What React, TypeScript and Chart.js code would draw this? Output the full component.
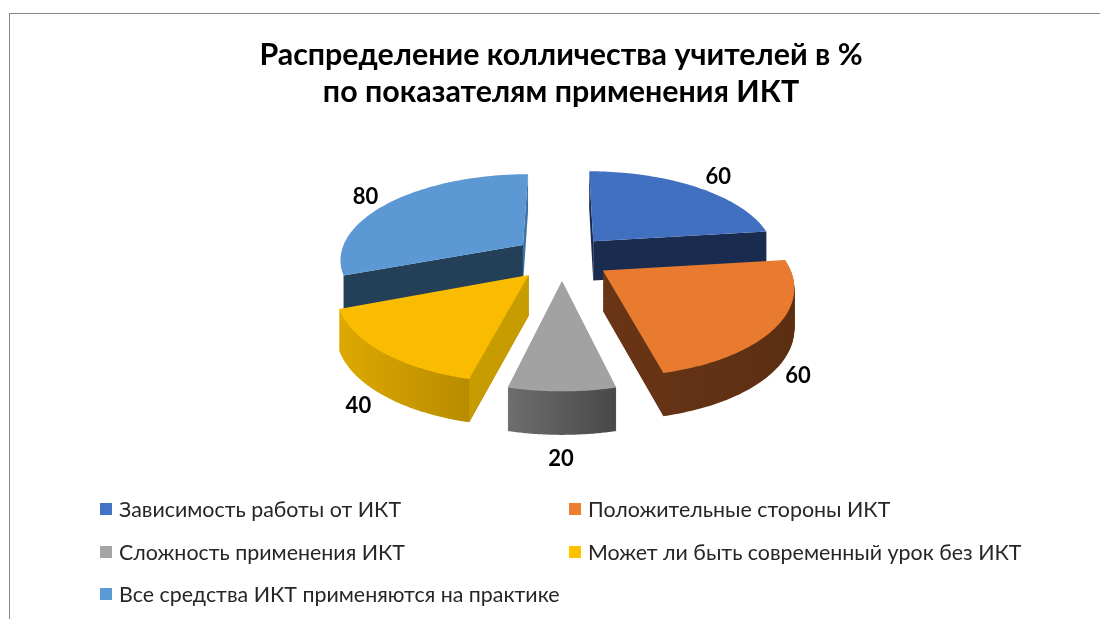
import React, { useEffect, useRef } from "react";
import { Chart, registerables } from "chart.js";

Chart.register(...registerables);

const categories = [
  "Зависимость работы от ИКТ",
  "Положительные стороны ИКТ",
  "Сложность применения ИКТ",
  "Может ли быть современный урок без ИКТ",
  "Все средства ИКТ применяются на практике",
];
const values = [60, 60, 20, 40, 80];
const legendColors = ["#4472c4", "#ed7d31", "#a5a5a5", "#ffc000", "#5b9bd5"];
const topColors = ["#4270c0", "#e97b30", "#a2a2a2", "#fabc00", "#5b98d4"];
const wallFrom = ["#1a2b50", "#6a3516", "#6e6e6e", "#dda900", "#243f58"];
const wallTo = ["#1a2b50", "#5c2f12", "#484848", "#a87e00", "#243f58"];
const outerWall = [false, true, true, true, false];
const startCutColors = ["#1a2b50", "", "", "#c79c00", "#243f58"];
const endCutColors = ["#1a2b50", "", "", "", "#3f73a8"];
const titleLines = ["Распределение колличества учителей в %", "по показателям применения ИКТ"];
const labelRadius = [1.32, 1.2, 1.264, 1.215, 1.27];
const drawOrder = [0, 4, 3, 1, 2];

const FONT = "Lato, Carlito, 'Open Sans', sans-serif";
const CX = 562, CY = 257.5, RX = 211, AY = 98, PERSP = 0.177, EXPLODE = 0.23, RADIUS = 0.87, DEPTH = 40;

type P = { x: number; y: number };
const project = (u: number, v: number): P => {
  const w = 1 - PERSP * v;
  return { x: CX + (RX * u) / w, y: CY + (AY * v) / w };
};
const depthAt = (v: number) => DEPTH * (1 + 0.08 * v);

const pie3d = {
  id: "pie3d",
  beforeDatasetsDraw(chart: any) {
    const ctx: CanvasRenderingContext2D = chart.ctx;
    const arcs = chart.getDatasetMeta(0).data;
    const sliceOf = (arc: any) => {
      const mid = (arc.startAngle + arc.endAngle) / 2;
      const ou = EXPLODE * Math.cos(mid), ov = EXPLODE * Math.sin(mid);
      const pts: { u: number; v: number }[] = [{ u: ou, v: ov }];
      const n = 60;
      for (let k = 0; k <= n; k++) {
        const a = arc.startAngle + ((arc.endAngle - arc.startAngle) * k) / n;
        pts.push({ u: ou + RADIUS * Math.cos(a), v: ov + RADIUS * Math.sin(a) });
      }
      return { mid, pts };
    };
    const fillPoly = (pts: { u: number; v: number }[], f: number, style: any) => {
      ctx.beginPath();
      pts.forEach((p, i) => {
        const s = project(p.u, p.v);
        const y = s.y + f * depthAt(p.v);
        if (i === 0) ctx.moveTo(s.x, y);
        else ctx.lineTo(s.x, y);
      });
      ctx.closePath();
      ctx.fillStyle = style;
      ctx.fill();
    };
    const cutWall = (p0: { u: number; v: number }, p1: { u: number; v: number }, color: string) => {
      const a = project(p0.u, p0.v);
      const b = project(p1.u, p1.v);
      ctx.beginPath();
      ctx.moveTo(a.x, a.y);
      ctx.lineTo(b.x, b.y);
      ctx.lineTo(b.x, b.y + depthAt(p1.v));
      ctx.lineTo(a.x, a.y + depthAt(p0.v));
      ctx.closePath();
      ctx.fillStyle = color;
      ctx.fill();
    };
    ctx.save();
    drawOrder.forEach((i) => {
      const { pts } = sliceOf(arcs[i]);
      const xs = pts.map((p) => project(p.u, p.v).x);
      const grad = ctx.createLinearGradient(Math.min(...xs), 0, Math.max(...xs), 0);
      grad.addColorStop(0, wallFrom[i]);
      grad.addColorStop(1, wallTo[i]);
      if (outerWall[i]) {
        const steps = Math.ceil(DEPTH * 1.2);
        for (let s = steps; s >= 1; s--) fillPoly(pts, s / steps, grad);
      }
      if (startCutColors[i]) cutWall(pts[0], pts[1], startCutColors[i]);
      if (endCutColors[i]) cutWall(pts[0], pts[pts.length - 1], endCutColors[i]);
      fillPoly(pts, 0, topColors[i]);
    });
    ctx.font = `bold 22px ${FONT}`;
    ctx.fillStyle = "#000";
    ctx.textAlign = "center";
    ctx.textBaseline = "middle";
    arcs.forEach((arc: any, i: number) => {
      const { mid } = sliceOf(arc);
      const u = labelRadius[i] * Math.cos(mid), v = labelRadius[i] * Math.sin(mid);
      const s = project(u, v);
      ctx.fillText(String(values[i]), s.x - 1, s.y + (v > 0 ? DEPTH : 0) + 2);
    });
    ctx.restore();
    return false;
  },
};

export default function App() {
  const ref = useRef<HTMLCanvasElement>(null);
  useEffect(() => {
    const chart = new Chart(ref.current as HTMLCanvasElement, {
      type: "pie",
      data: { labels: categories, datasets: [{ data: values, backgroundColor: legendColors, borderWidth: 0 }] },
      options: {
        responsive: false,
        animation: false,
        layout: { padding: { left: 22 } },
        plugins: {
          legend: { display: false },
          tooltip: { enabled: false },
          title: {
            display: true,
            text: titleLines,
            color: "#000",
            font: { family: FONT, size: 30.4, weight: "bold", lineHeight: 1.22 },
            padding: { top: 37, bottom: 10 },
          },
        },
      },
      plugins: [pie3d],
    } as any);
    return () => chart.destroy();
  }, []);

  const col = [100, 569];
  const rows = [509, 552, 594];
  return (
    <div style={{ position: "absolute", left: 0, top: 0, width: 1100, height: 619, overflow: "hidden", background: "#fff" }}>
      <canvas ref={ref} width={1100} height={619} style={{ position: "absolute", left: 0, top: 0 }} />
      <div style={{ position: "absolute", left: 9, top: 13, width: 1100, height: 620, borderLeft: "1px solid #888", borderTop: "1px solid #888" }} />
      {categories.map((c, i) => (
        <div key={c} style={{ position: "absolute", left: col[i % 2], top: rows[Math.floor(i / 2)] - 15, height: 30, display: "flex", alignItems: "center", whiteSpace: "nowrap", fontFamily: FONT, fontSize: 21.4, color: "#262626" }}>
          <span style={{ width: 12, height: 12, background: legendColors[i], marginRight: 7, display: "inline-block" }} />
          {c}
        </div>
      ))}
    </div>
  );
}
